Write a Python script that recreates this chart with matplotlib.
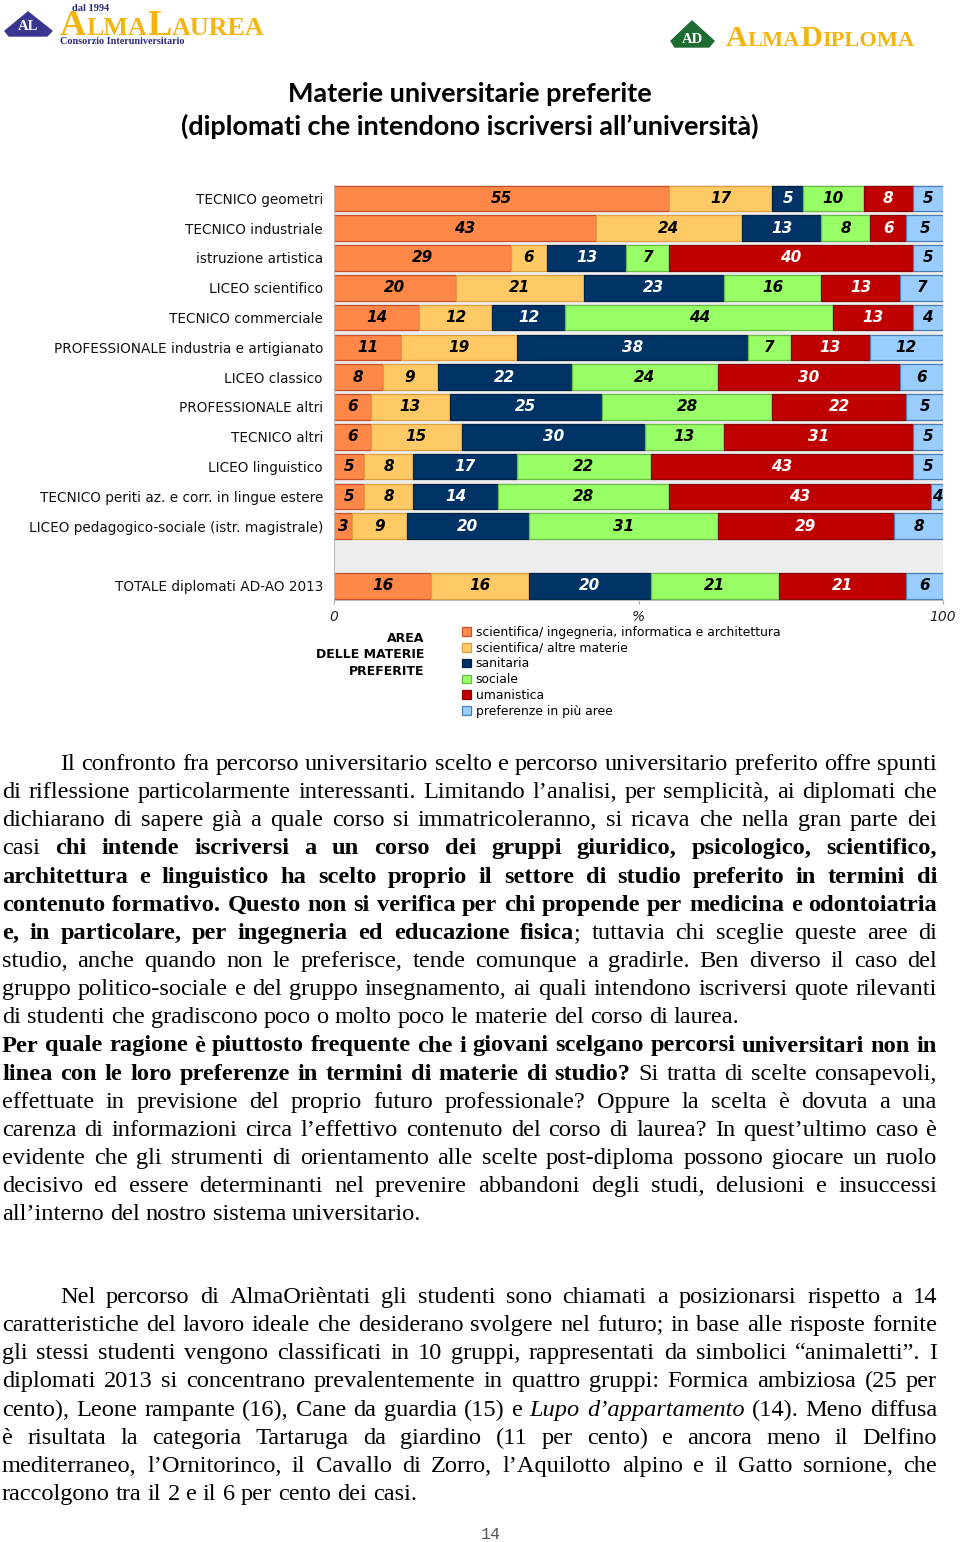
import matplotlib
matplotlib.use('Agg')
import matplotlib.pyplot as plt
from matplotlib.patches import Patch, Polygon
from matplotlib.font_manager import FontProperties

W, H = 960, 1542

# ---------------- data ----------------
categories = [
    'TECNICO geometri', 'TECNICO industriale', 'istruzione artistica',
    'LICEO scientifico', 'TECNICO commerciale',
    'PROFESSIONALE industria e artigianato', 'LICEO classico',
    'PROFESSIONALE altri', 'TECNICO altri', 'LICEO linguistico',
    'TECNICO periti az. e corr. in lingue estere',
    'LICEO pedagogico-sociale (istr. magistrale)',
]
total_label = 'TOTALE diplomati AD-AO 2013'
series_names = [
    'scientifica/ ingegneria, informatica e architettura',
    'scientifica/ altre materie', 'sanitaria', 'sociale', 'umanistica',
    'preferenze in più aree',
]
ing_arch   = [55, 43, 29, 20, 14, 11, 8, 6, 6, 5, 5, 3]
altre      = [17, 24, 6, 21, 12, 19, 9, 13, 15, 8, 8, 9]
sanitaria  = [5, 13, 13, 23, 12, 38, 22, 25, 30, 17, 14, 20]
sociale    = [10, 8, 7, 16, 44, 7, 24, 28, 13, 22, 28, 31]
umanistica = [8, 6, 40, 13, 13, 13, 30, 22, 31, 43, 43, 29]
piu_aree   = [5, 5, 5, 7, 4, 12, 6, 5, 5, 5, 4, 8]
totale     = [16, 16, 20, 21, 21, 6]
x_ticks = [0, 50, 100]
x_ticklabels = ['0', '%', '100']

face = ['#FF8849', '#FFC966', '#003366', '#99FF66', '#C00000', '#99CCFF']
edge = ['#C8502A', '#E0A040', '#002244', '#66BB44', '#8A0000', '#4A7FB5']
txtc = ['black', 'black', 'white', 'black', 'white', 'black']

fig = plt.figure(figsize=(W / 100, H / 100), dpi=100)
fig.patch.set_facecolor('white')
renderer = fig.canvas.get_renderer()


def fx(x):
    return x / W


def fy(y):
    return 1 - y / H


def tw(s, fp):
    w, h, d = renderer.get_text_width_height_descent(s, fp, ismath=False)
    return w


# ---------------- chart ----------------
ax = fig.add_axes([fx(334), fy(600), 609 / W, 415 / H])
ax.set_facecolor('#EDEDED')
rows = [list(r) for r in zip(ing_arch, altre, sanitaria, sociale, umanistica, piu_aree)]
ypos = list(range(len(categories)))
rows.append(totale)
ypos.append(len(categories) + 1)

for yi, vals in zip(ypos, rows):
    left = 0
    for k, v in enumerate(vals):
        w = v if k < len(vals) - 1 else max(100 - left, 0)
        ax.barh(yi, w, left=left, height=0.86, color=face[k], edgecolor=edge[k],
                linewidth=0.9, zorder=2)
        right = min(left + w, 100)
        ax.text((left + right) / 2, yi, str(v), ha='center', va='center',
                color=txtc[k], fontsize=11, fontweight='bold', fontstyle='italic',
                family='DejaVu Sans', zorder=3)
        left += w

ax.set_xlim(0, 100)
ax.set_ylim(len(categories) + 1.48, -0.45)
ax.set_yticks(ypos)
ax.set_yticklabels(categories + [total_label], fontsize=9.8, family='DejaVu Sans',
                   color='#111111')
ax.tick_params(axis='y', length=0, pad=8)
ax.set_xticks(x_ticks)
ax.set_xticklabels(x_ticklabels, fontsize=10, fontstyle='italic', family='DejaVu Sans',
                   color='#222222')
ax.tick_params(axis='x', length=3, pad=4, color='#AAAAAA')
for s in ['top', 'right']:
    ax.spines[s].set_visible(False)
for s in ['left', 'bottom']:
    ax.spines[s].set_color('#BBBBBB')
    ax.spines[s].set_linewidth(0.8)

handles = [Patch(facecolor=face[k], edgecolor=edge[k], linewidth=0.9)
           for k in range(len(series_names))]
fig.legend(handles, series_names, loc='upper left',
           bbox_to_anchor=(fx(462), fy(626)), bbox_transform=fig.transFigure,
           frameon=False, borderpad=0, borderaxespad=0, handlelength=0.7,
           handleheight=0.7, handletextpad=0.4, labelspacing=0.22,
           prop=FontProperties(family='DejaVu Sans', size=8.9))
fig.text(fx(424), fy(632), 'AREA\nDELLE MATERIE\nPREFERITE', ha='right', va='top',
         multialignment='right', fontsize=9, fontweight='bold', family='DejaVu Sans',
         linespacing=1.35)

# ---------------- title ----------------
tfp = FontProperties(family='Lato', weight='bold', size=20)
t2 = '(diplomati che intendono iscriversi all’università)'
tsize = 20 * 578 / tw(t2, tfp)
fig.text(fx(470), fy(102), 'Materie universitarie preferite', ha='center',
         va='baseline', family='Lato', fontweight='bold', fontsize=tsize)
fig.text(fx(470), fy(135), t2, ha='center', va='baseline', family='Lato',
         fontweight='bold', fontsize=tsize)

# ---------------- logos ----------------
fig.patches.append(Polygon([(fx(5), fy(31)), (fx(28), fy(12)), (fx(52), fy(31)),
                            (fx(47), fy(36)), (fx(9), fy(36))], closed=True,
                           transform=fig.transFigure, facecolor='#3A3690',
                           edgecolor='#3A3690'))
fig.text(fx(28.5), fy(30), 'AL', ha='center', va='baseline', color='white',
         family='Liberation Serif', fontweight='bold', fontsize=10.5)
fig.patches.append(Polygon([(fx(671), fy(41)), (fx(692), fy(21)), (fx(714), fy(41)),
                            (fx(709), fy(47)), (fx(675), fy(47))], closed=True,
                           transform=fig.transFigure, facecolor='#1F6B34',
                           edgecolor='#1F6B34'))
fig.text(fx(692.5), fy(43), 'AD', ha='center', va='baseline', color='white',
         family='Liberation Serif', fontweight='bold', fontsize=10.5)

gold = '#F2B50F'


def logo_word(x, y, pieces, target):
    fps = [FontProperties(family='Liberation Serif', weight='bold', size=s) for _, s in pieces]
    nat = sum(tw(t, fp) for (t, _), fp in zip(pieces, fps))
    k = target / nat
    cx = x
    for t, s in pieces:
        fp = FontProperties(family='Liberation Serif', weight='bold', size=s * k)
        fig.text(fx(cx), fy(y), t, ha='left', va='baseline', color=gold,
                 fontproperties=fp)
        cx += tw(t, fp)


logo_word(60, 35, [('A', 21), ('LMA', 15), ('L', 21), ('AUREA', 15)], 204)
logo_word(726, 46, [('A', 19), ('LMA', 14), ('D', 19), ('IPLOMA', 14)], 189)
fig.text(fx(72), fy(11), 'dal 1994', ha='left', va='baseline', color='#2B2A7A',
         family='Liberation Serif', fontweight='bold', fontsize=7.5)
fig.text(fx(60), fy(44), 'Consorzio Interuniversitario', ha='left', va='baseline',
         color='#2B2A7A', family='Liberation Serif', fontweight='bold', fontsize=7.3)

# ---------------- body text ----------------
p1 = [
    ([('Il confronto fra percorso universitario scelto e percorso universitario preferito offre spunti', 'n')], 60, True),
    ([('di riflessione particolarmente interessanti. Limitando l’analisi, per semplicità, ai diplomati che', 'n')], 2, True),
    ([('dichiarano di sapere già a quale corso si immatricoleranno, si ricava che nella gran parte dei', 'n')], 2, True),
    ([('casi ', 'n'), ('chi intende iscriversi a un corso dei gruppi giuridico, psicologico, scientifico,', 'b')], 2, True),
    ([('architettura e linguistico ha scelto proprio il settore di studio preferito in termini di', 'b')], 2, True),
    ([('contenuto formativo. Questo non si verifica per chi propende per medicina e odontoiatria', 'b')], 2, True),
    ([('e, in particolare, per ingegneria ed educazione fisica', 'b'), ('; tuttavia chi sceglie queste aree di', 'n')], 2, True),
    ([('studio, anche quando non le preferisce, tende comunque a gradirle. Ben diverso il caso del', 'n')], 2, True),
    ([('gruppo politico-sociale e del gruppo insegnamento, ai quali intendono iscriversi quote rilevanti', 'n')], 2, True),
    ([('di studenti che gradiscono poco o molto poco le materie del corso di laurea.', 'n')], 2, False),
    ([('Per quale ragione è piuttosto frequente che i giovani scelgano percorsi universitari non in', 'b')], 2, True),
    ([('linea con le loro preferenze in termini di materie di studio?', 'b'), (' Si tratta di scelte consapevoli,', 'n')], 2, True),
    ([('effettuate in previsione del proprio futuro professionale? Oppure la scelta è dovuta a una', 'n')], 2, True),
    ([('carenza di informazioni circa l’effettivo contenuto del corso di laurea? In quest’ultimo caso è', 'n')], 2, True),
    ([('evidente che gli strumenti di orientamento alle scelte post-diploma possono giocare un ruolo', 'n')], 2, True),
    ([('decisivo ed essere determinanti nel prevenire abbandoni degli studi, delusioni e insuccessi', 'n')], 2, True),
    ([('all’interno del nostro sistema universitario.', 'n')], 2, False),
]
p2 = [
    ([('Nel percorso di AlmaOrièntati gli studenti sono chiamati a posizionarsi rispetto a 14', 'n')], 60, True),
    ([('caratteristiche del lavoro ideale che desiderano svolgere nel futuro; in base alle risposte fornite', 'n')], 2, True),
    ([('gli stessi studenti vengono classificati in 10 gruppi, rappresentati da simbolici “animaletti”. I', 'n')], 2, True),
    ([('diplomati 2013 si concentrano prevalentemente in quattro gruppi: Formica ambiziosa (25 per', 'n')], 2, True),
    ([('cento), Leone rampante (16), Cane da guardia (15) e ', 'n'), ('Lupo d’appartamento', 'i'), (' (14). Meno diffusa', 'n')], 2, True),
    ([('è risultata la categoria Tartaruga da giardino (11 per cento) e ancora meno il Delfino', 'n')], 2, True),
    ([('mediterraneo, l’Ornitorinco, il Cavallo di Zorro, l’Aquilotto alpino e il Gatto sornione, che', 'n')], 2, True),
    ([('raccolgono tra il 2 e il 6 per cento dei casi.', 'n')], 2, False),
]

base_fp = FontProperties(family='Liberation Serif', size=16)
body_size = 16 * 738 / tw('di studenti che gradiscono poco o molto poco le materie del corso di laurea.', base_fp)


def fp_of(st):
    return FontProperties(family='Liberation Serif', size=body_size,
                          weight='bold' if st == 'b' else 'normal',
                          style='italic' if st == 'i' else 'normal')


FPS = {k: fp_of(k) for k in 'nbi'}
space_w = tw('x x', FPS['n']) - tw('xx', FPS['n'])


def split_words(segs):
    words, cur = [], []
    for txt, st in segs:
        for c in txt:
            if c == ' ':
                if cur:
                    words.append(cur)
                    cur = []
            else:
                if cur and cur[-1][1] == st:
                    cur[-1] = (cur[-1][0] + c, st)
                else:
                    cur.append((c, st))
    if cur:
        words.append(cur)
    return words


def draw_par(lines, y0, pitch, right=937):
    for i, (segs, x0, just) in enumerate(lines):
        y = y0 + i * pitch
        words = split_words(segs)
        wws = [sum(tw(t, FPS[s]) for t, s in wd) for wd in words]
        if just and len(words) > 1:
            gap = (right - x0 - sum(wws)) / (len(words) - 1)
        else:
            gap = space_w
        x = x0
        for wd, ww in zip(words, wws):
            px = x
            for t, s in wd:
                fig.text(fx(px), fy(y), t, ha='left', va='baseline', fontproperties=FPS[s],
                         color='black')
                px += tw(t, FPS[s])
            x += ww + gap


draw_par(p1, 770, 28.15)
draw_par(p2, 1303, 28.15)

fig.text(fx(491), fy(1539), '14', ha='center', va='baseline', family='Liberation Mono',
         fontsize=12, color='#555555')

fig.savefig('out.png', dpi=100, facecolor='white')
